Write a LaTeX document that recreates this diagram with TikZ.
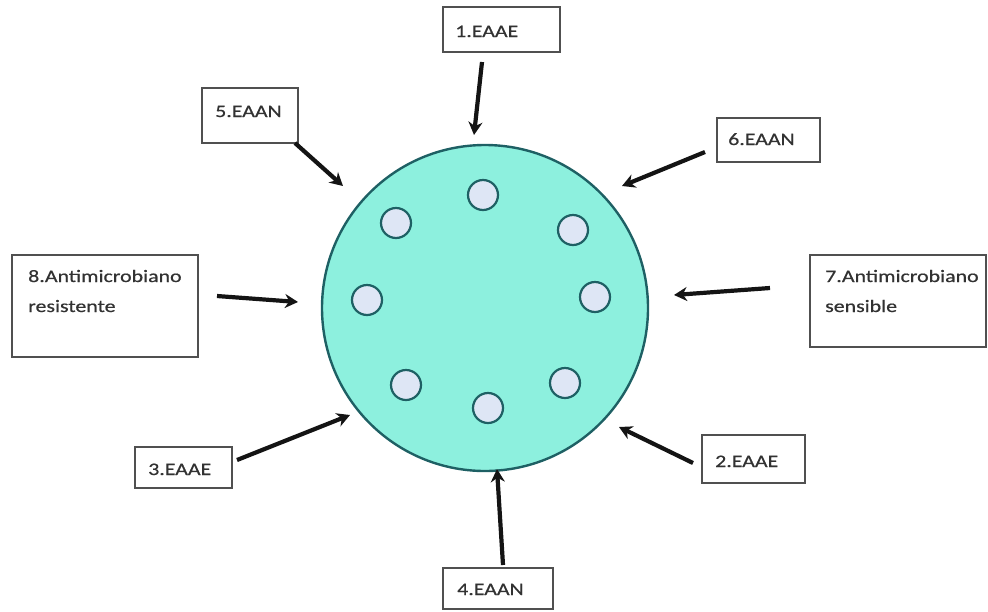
\documentclass[tikz,border=0pt]{standalone}
\usepackage{fontspec}
\setmainfont{Carlito}
\newfontfamily\lblfont[FakeStretch=1.25,FakeBold=0.6]{Carlito}
\usetikzlibrary{arrows.meta}
\definecolor{plate}{RGB}{141,240,222}
\definecolor{rimc}{RGB}{30,96,100}
\definecolor{wellc}{RGB}{222,230,245}
\definecolor{boxc}{RGB}{80,80,80}
\definecolor{txtc}{RGB}{50,50,50}
\begin{document}
\begin{tikzpicture}[x=1pt,y=-1pt,
  boxline/.style={draw=boxc,line width=1.8pt},
  lbltxt/.style={anchor=base west,inner sep=0pt,text=txtc,font=\lblfont\fontsize{17.5}{30}\selectfont,align=left},
  well/.style={circle,draw=rimc,line width=2.2pt,fill=wellc,minimum size=30pt,inner sep=0pt},
  push/.style={line width=4.2pt,draw=black!92,-{Stealth[length=13pt,width=14pt]}}]
\useasboundingbox (0,0) rectangle (988,611);

% agar plate
\node[circle,draw=rimc,line width=2.4pt,fill=plate,minimum size=326pt,inner sep=0pt] (plate) at (485,308) {};

% disc wells
\node[well] (w1) at (483,195) {};
\node[well] (w2) at (396,223) {};
\node[well] (w3) at (573,230) {};
\node[well] (w4) at (367,300) {};
\node[well] (w5) at (595,297) {};
\node[well] (w6) at (406,385) {};
\node[well] (w7) at (565,383) {};
\node[well] (w8) at (488,408) {};

% label boxes
\draw[boxline] (443,7) rectangle (560,52);
\node (b1) at (501.5,29.5) {};
\node[lbltxt] (t1) at (455,37) {1.EAAE};

\draw[boxline] (202,88) rectangle (298,143);
\node (b5) at (250,115.5) {};
\node[lbltxt] (t5) at (215,117) {5.EAAN};

\draw[boxline] (717,118) rectangle (820,162);
\node (b6) at (768.5,140) {};
\node[lbltxt] (t6) at (728,145) {6.EAAN};

\draw[boxline] (12,255) rectangle (198,357);
\node (b8) at (105,306) {};
\node[lbltxt] (t8) at (28,282) {8.Antimicrobiano};
\node[lbltxt] (t8b) at (28,312) {resistente};

\draw[boxline] (810,255) rectangle (986,347);
\node (b7) at (898,301) {};
\node[lbltxt] (t7) at (825,282) {7.Antimicrobiano};
\node[lbltxt] (t7b) at (825,312) {sensible};

\draw[boxline] (135,447) rectangle (232,488);
\node (b3) at (183.5,467.5) {};
\node[lbltxt] (t3) at (148,475) {3.EAAE};

\draw[boxline] (702,435) rectangle (805,483);
\node (b2) at (753.5,459) {};
\node[lbltxt] (t2) at (715,467) {2.EAAE};

\draw[boxline] (443,568) rectangle (553,609);
\node (b4) at (498,588.5) {};
\node[lbltxt] (t4) at (457,595) {4.EAAN};

% arrow ends
\coordinate (a1s) at (482,62);  \coordinate (a1e) at (474,135);
\coordinate (a5s) at (295,143); \coordinate (a5e) at (343,186);
\coordinate (a6s) at (705,152); \coordinate (a6e) at (622,186);
\coordinate (a8s) at (217,296); \coordinate (a8e) at (298,302);
\coordinate (a7s) at (770,288); \coordinate (a7e) at (674,295);
\coordinate (a3s) at (237,460); \coordinate (a3e) at (350,415);
\coordinate (a2s) at (693,463); \coordinate (a2e) at (619,427);
\coordinate (a4s) at (503,565); \coordinate (a4e) at (497,469);

% arrows towards the plate
\draw[push] (a1s) -- (a1e);
\draw[push] (a5s) -- (a5e);
\draw[push] (a6s) -- (a6e);
\draw[push] (a8s) -- (a8e);
\draw[push] (a7s) -- (a7e);
\draw[push] (a3s) -- (a3e);
\draw[push] (a2s) -- (a2e);
\draw[push] (a4s) -- (a4e);
\end{tikzpicture}
\end{document}
